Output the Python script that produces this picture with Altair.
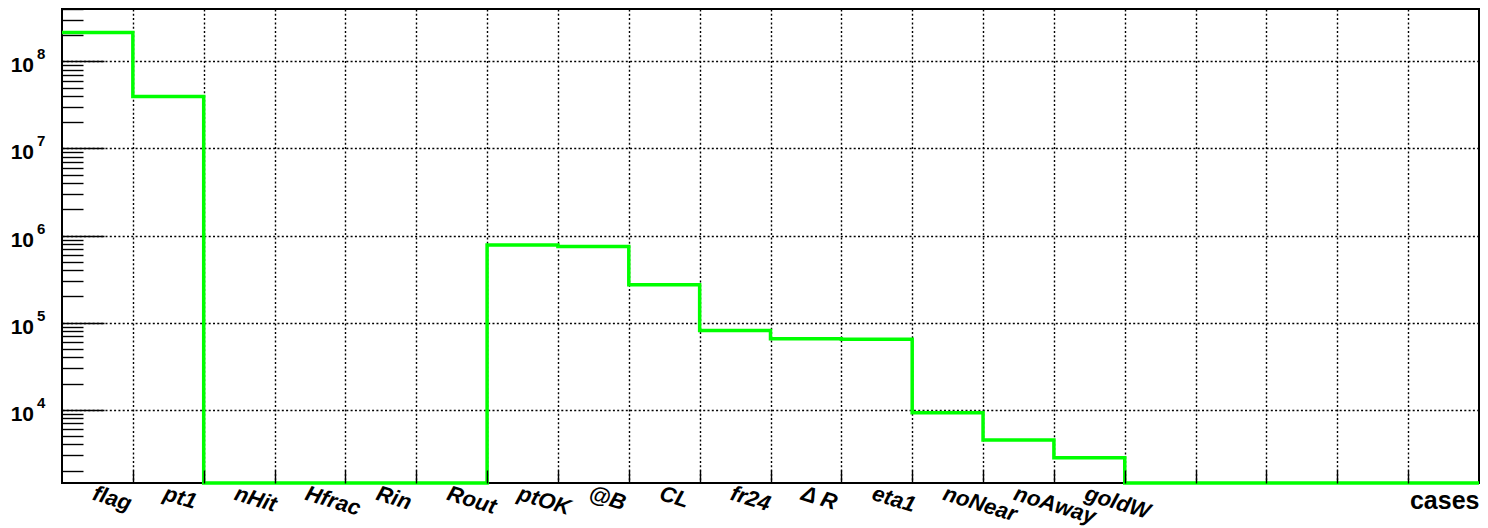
import altair as alt
import pandas as pd

# ---- data ----
labels = ["flag", "pt1", "nHit", "Hfrac", "Rin", "Rout", "ptOK", "@B", "CL",
          "fr24", "\u0394 R", "eta1", "noNear", "noAway", "goldW"]
counts = [2.15e8, 3.96e7, 0, 0, 0, 0, 7.8e5, 7.5e5, 2.73e5, 8.1e4,
          6.55e4, 6.45e4, 9.25e3, 4.49e3, 2.81e3, 0, 0, 0, 0, 0]
n_bins = 20
y_min, y_max = 1440, 4.0e8
decades = [1e4, 1e5, 1e6, 1e7, 1e8]
exponents = ["4", "5", "6", "7", "8"]
x_title = "cases"

W, H = 1417, 474
FONT = "Liberation Sans"

edges = list(range(n_bins + 1))
line_df = pd.DataFrame({"x": edges, "v": counts + [counts[-1]]})
lab_df = pd.DataFrame({"xc": [i + 0.5 for i in range(len(labels))], "lab": labels})
dec_df = pd.DataFrame({"v": decades, "e": exponents})
minor_vals = [m * 10 ** k for k in range(3, 9) for m in range(2, 10)
              if y_min <= m * 10 ** k <= y_max]
inner_edges = list(range(1, n_bins))

xs = alt.Scale(domain=[0, n_bins], nice=False, zero=False)
ys = alt.Scale(type="log", domain=[y_min, y_max], nice=False, clamp=True)

base = alt.Chart(line_df).transform_calculate(
    vp=f"datum.v > 0 ? datum.v : {y_min}"
)

grid_common = dict(grid=True, gridColor="black", gridDash=[2, 2.3], gridWidth=1.4,
                   gridOpacity=1, ticks=False, labels=False, domain=False)

line = base.mark_line(interpolate="step-after", color="#00ff00", strokeWidth=3.5,
                      strokeJoin="miter").encode(
    x=alt.X("x:Q", scale=xs, axis=alt.Axis(
        orient="bottom", values=inner_edges, **grid_common,
        title=x_title, titleFont=FONT, titleFontSize=25, titleFontWeight="bold",
        titleColor="black", titleAnchor="end", titleAlign="right",
        titleBaseline="alphabetic", titleX=W, titleY=25)),
    y=alt.Y("vp:Q", scale=ys, axis=alt.Axis(
        orient="left", values=decades, **grid_common, title=None)),
)

tick_common = dict(grid=False, labels=False, domain=False, ticks=True,
                   tickColor="black", tickWidth=1.4, title=None, zindex=1)

major = base.mark_line(opacity=0).encode(
    x=alt.X("x:Q", scale=xs, axis=alt.Axis(
        orient="bottom", values=inner_edges, offset=-13, tickSize=13, **tick_common)),
    y=alt.Y("vp:Q", scale=ys, axis=alt.Axis(
        orient="left", values=decades, offset=-42, tickSize=42, **tick_common)),
)

minor = base.mark_line(opacity=0).encode(
    x=alt.X("x:Q", scale=xs, axis=None),
    y=alt.Y("vp:Q", scale=ys, axis=alt.Axis(
        orient="left", values=minor_vals, offset=-21, tickSize=21, **tick_common)),
)

ten = alt.Chart(dec_df).mark_text(
    align="right", baseline="alphabetic", dy=11, font=FONT, fontSize=21,
    fontWeight=700, color="black"
).encode(
    x=alt.value(-28),
    y=alt.Y("v:Q", scale=ys, axis=None),
    text=alt.value("10"),
)

expo = alt.Chart(dec_df).mark_text(
    align="left", baseline="alphabetic", dy=-2, font=FONT, fontSize=15,
    fontWeight=700, color="black"
).encode(
    x=alt.value(-25),
    y=alt.Y("v:Q", scale=ys, axis=None),
    text="e:N",
)

xlabels = alt.Chart(lab_df).mark_text(
    align="left", baseline="top", angle=17, font=FONT, fontSize=22,
    fontWeight=700, fontStyle="italic", color="black", dx=-1
).encode(
    x=alt.X("xc:Q", scale=xs, axis=None),
    y=alt.value(H + 0.5),
    text="lab:N",
)

chart = alt.layer(line, major, minor, ten, expo, xlabels).resolve_axis(
    x="independent", y="independent"
).properties(
    width=W, height=H,
    autosize=alt.AutoSizeParams(type="none"),
    padding={"left": 54, "top": 1, "right": 1, "bottom": 45},
    background="white",
).configure_view(stroke="black", strokeWidth=2)

chart.save("out.html", embed_options={"renderer": "svg", "actions": False})
